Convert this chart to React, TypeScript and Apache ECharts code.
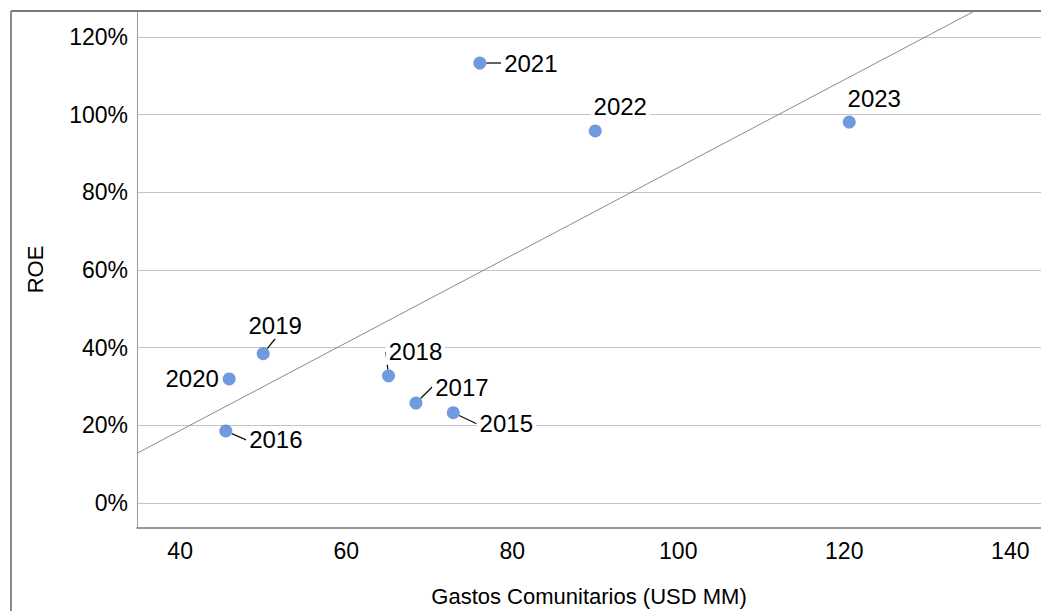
import React, { useEffect, useRef } from "react";
import * as echarts from "echarts";

// Community spending (USD MM) vs. ROE (%) by year
const years = ["2015", "2016", "2017", "2018", "2019", "2020", "2021", "2022", "2023"];
const gastos = [72.9, 45.5, 68.4, 65.1, 50.0, 45.9, 76.1, 90.0, 120.6];
const roe = [23.2, 18.5, 25.7, 32.7, 38.4, 31.9, 113.3, 95.8, 98.1];

// Where each year label sits relative to its point (text centre offset, px)
const labelShiftX = [53, 50, 46, 27, 12, -37, 51, 25, 25];
const labelShiftY = [11, 9, -16, -24, -28, 0, 0, -24, -24];
// Whether a leader line joins the label to its point
const labelLeader = [true, true, true, true, true, false, true, false, false];

const xTicks = [40, 60, 80, 100, 120, 140];
const yTicks = [0, 20, 40, 60, 80, 100, 120];

const X_MIN = 34.8;
const X_MAX = 143.7;
const Y_MIN = -6.5;
const Y_MAX = 126.7;

// Ordinary least squares fit of ROE on spending
function linearFit(xs: number[], ys: number[]) {
  const n = xs.length;
  const mx = xs.reduce((a, b) => a + b, 0) / n;
  const my = ys.reduce((a, b) => a + b, 0) / n;
  let sxy = 0;
  let sxx = 0;
  for (let i = 0; i < n; i++) {
    sxy += (xs[i] - mx) * (ys[i] - my);
    sxx += (xs[i] - mx) * (xs[i] - mx);
  }
  const slope = sxy / sxx;
  return { slope, intercept: my - slope * mx };
}

export default function App() {
  const ref = useRef<HTMLDivElement>(null);

  useEffect(() => {
    if (!ref.current) return;
    const chart = echarts.init(ref.current, null, { renderer: "svg" });
    const fit = linearFit(gastos, roe);
    const fitLine = [X_MIN, X_MAX].map((x) => [x, fit.intercept + fit.slope * x]);

    const font = "'Liberation Sans', Arial, sans-serif";

    chart.setOption({
      animation: false,
      backgroundColor: "#ffffff",
      grid: {
        left: 137,
        top: 11,
        right: 0,
        bottom: 83,
        containLabel: false,
        outerBoundsMode: "none",
      },
      xAxis: {
        type: "value",
        min: X_MIN,
        max: X_MAX,
        name: "Gastos Comunitarios (USD MM)",
        nameLocation: "middle",
        nameGap: 57,
        nameTextStyle: { fontFamily: font, fontSize: 22, color: "#000" },
        axisLine: { show: true, onZero: false, lineStyle: { color: "#777", width: 1.5 } },
        axisTick: { show: false, customValues: xTicks },
        axisLabel: {
          customValues: xTicks,
          fontFamily: font,
          fontSize: 23,
          color: "#000",
          margin: 11,
        },
        splitLine: { show: false },
      },
      yAxis: {
        type: "value",
        min: Y_MIN,
        max: Y_MAX,
        name: "ROE",
        nameLocation: "middle",
        nameGap: 91,
        nameTextStyle: { fontFamily: font, fontSize: 22, color: "#000" },
        axisLine: { show: true, onZero: false, lineStyle: { color: "#999", width: 1 } },
        axisTick: { show: false, customValues: yTicks },
        axisLabel: {
          customValues: yTicks,
          formatter: "{value}%",
          fontFamily: font,
          fontSize: 23,
          color: "#000",
          margin: 9,
        },
        splitLine: { show: true, lineStyle: { color: "#c4c4c4", width: 1 } },
      },
      series: [
        {
          type: "line",
          data: fitLine,
          showSymbol: false,
          symbol: "none",
          clip: true,
          silent: true,
          lineStyle: { color: "#8a8a8a", width: 1 },
          z: 2,
        },
        {
          type: "scatter",
          symbol: "circle",
          symbolSize: 13,
          itemStyle: { color: "#4e7fd4" },
          data: gastos.map((g, i) => ({
            value: [g, roe[i]],
            name: years[i],
            labelLine: { show: labelLeader[i] },
          })),
          label: {
            show: true,
            position: "inside",
            formatter: (p: any) => p.name,
            fontFamily: font,
            fontSize: 24,
            color: "#000",
            opacity: 1,
            textBorderWidth: 0,
            textBorderColor: "transparent",
            backgroundColor: "#ffffff",
            padding: [1, 3],
          },
          labelLine: { show: true, lineStyle: { color: "#111", width: 1.3 } },
          labelLayout: (p: any) => ({
            dx: labelShiftX[p.dataIndex],
            dy: labelShiftY[p.dataIndex],
          }),
          z: 3,
        },
      ],
      graphic: [
        {
          type: "line",
          shape: { x1: 11, y1: 11, x2: 1041, y2: 11 },
          style: { stroke: "#7a7a7a", lineWidth: 2 },
          z: 10,
        },
        {
          type: "line",
          shape: { x1: 11, y1: 11, x2: 11, y2: 611 },
          style: { stroke: "#8a8a8a", lineWidth: 2 },
          z: 10,
        },
      ],
    });

    return () => chart.dispose();
  }, []);

  return (
    <div
      ref={ref}
      style={{ position: "fixed", left: 0, top: 0, width: 1041, height: 611, background: "#fff" }}
    />
  );
}
